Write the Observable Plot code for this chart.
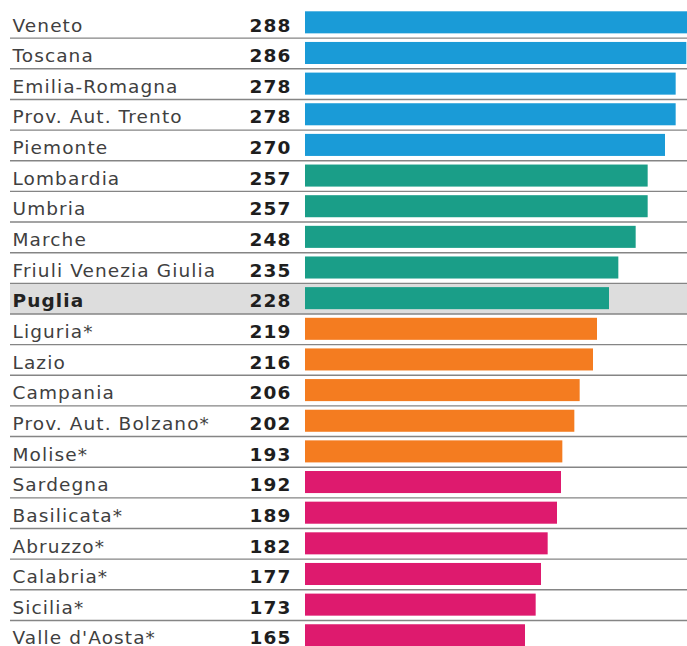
<!DOCTYPE html>
<html>
<head>
<meta charset="utf-8">
<script src="https://cdn.jsdelivr.net/npm/d3@7"></script>
<script src="https://cdn.jsdelivr.net/npm/@observablehq/plot@0.6"></script>
<style>
  html, body { margin: 0; padding: 0; background: #fff; }
  #chart svg { display: block; }
  #chart text { letter-spacing: 1.1px; }
</style>
</head>
<body>
<div id="chart"></div>
<script>
const regions = ["Veneto","Toscana","Emilia-Romagna","Prov. Aut. Trento","Piemonte","Lombardia","Umbria","Marche","Friuli Venezia Giulia","Puglia","Liguria*","Lazio","Campania","Prov. Aut. Bolzano*","Molise*","Sardegna","Basilicata*","Abruzzo*","Calabria*","Sicilia*","Valle d'Aosta*"];
const values = [288,286,278,278,270,257,257,248,235,228,219,216,206,202,193,192,189,182,177,173,165];
const groups = ["g1","g1","g1","g1","g1","g2","g2","g2","g2","g2","g3","g3","g3","g3","g3","g4","g4","g4","g4","g4","g4"];
const groupNames = ["g1","g2","g3","g4"];
const groupColors = ["#1a9bd7","#1a9e88","#f47c20","#de1a6e"];
const highlight = ["Puglia"];

const data = regions.map((r, i) => ({region: r, value: values[i], group: groups[i]}));
const plain = data.filter(d => !highlight.includes(d.region));
const bold = data.filter(d => highlight.includes(d.region));

const font = "DejaVu Sans";
const step = (650.6 - 7) / regions.length;

const chart = Plot.plot({
  width: 687,
  height: 646,
  marginLeft: 10,
  marginRight: 0,
  marginTop: 0,
  marginBottom: 0,
  style: {fontFamily: font, background: "#fff"},
  x: {domain: [0, 288], range: [305, 689], axis: null},
  y: {domain: regions, range: [7, 650.6], padding: 0, round: false, axis: null},
  color: {domain: groupNames, range: groupColors},
  marks: [
    Plot.ruleY(highlight, {stroke: "#dddddd", strokeWidth: step}),
    Plot.ruleY(regions, {dy: step / 2, stroke: "#858585", strokeWidth: 1.4}),
    Plot.barX(data, {x: "value", y: "region", fill: "group", insetTop: 4.3, insetBottom: 4.3}),
    Plot.text(plain, {y: "region", text: "region", frameAnchor: "left", textAnchor: "start", dx: 2, dy: 2.8, fontSize: 18.5, fill: "#404040", fontFamily: font}),
    Plot.text(bold, {y: "region", text: "region", frameAnchor: "left", textAnchor: "start", dx: 2, dy: 2.8, fontSize: 18.5, fontWeight: "bold", fill: "#222", fontFamily: font}),
    Plot.text(data, {x: () => 0, y: "region", text: d => String(d.value), textAnchor: "end", dx: -14, dy: 2.8, fontSize: 18.5, fontWeight: "bold", fill: "#1e1e1e", fontFamily: font})
  ]
});
document.getElementById("chart").appendChild(chart);
</script>
</body>
</html>
